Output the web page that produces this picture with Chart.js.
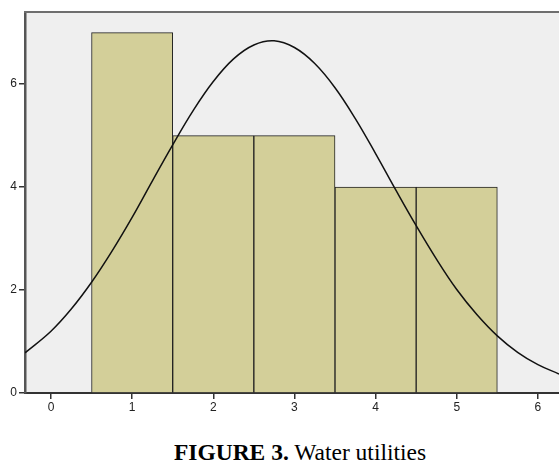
<!DOCTYPE html>
<html>
<head>
<meta charset="utf-8">
<script src="https://cdn.jsdelivr.net/npm/chart.js@4/dist/chart.umd.min.js"></script>
<style>
  body { margin: 0; background: #fff; }
  #wrap { position: relative; width: 559px; height: 418px; }
  #caption { position: absolute; top: 439px; left: 0; font-family: "Liberation Serif", "Times New Roman", serif;
             font-size: 23.5px; line-height: 27px; color: #000; text-align: center; width: 600px; }
</style>
</head>
<body>
<div id="wrap"><canvas id="myChart" width="559" height="418"></canvas></div>
<div id="caption"><b>FIGURE 3.</b> Water utilities</div>
<script>
// histogram bins (centres) and counts
var binCentres = [1, 2, 3, 4, 5];
var binCounts = [7, 5, 5, 4, 4];

// normal curve
var curveX = [-0.32, 0, 0.25, 0.5, 0.75, 1, 1.25, 1.5, 1.75, 2, 2.25, 2.5, 2.75, 3, 3.25,
              3.5, 3.75, 4, 4.25, 4.5, 4.75, 5, 5.25, 5.5, 5.75, 6, 6.26];
var curveY = [0.78, 1.20, 1.63, 2.15, 2.75, 3.41, 4.12, 4.82, 5.48, 6.05, 6.49, 6.76, 6.84, 6.71, 6.40,
              5.93, 5.33, 4.65, 3.94, 3.25, 2.60, 2.01, 1.52, 1.11, 0.79, 0.55, 0.37];

var xTicks = [0, 1, 2, 3, 4, 5, 6];
var yTicks = [0, 2, 4, 6];

var barData = binCentres.map(function(c, i) { return {x: c, y: binCounts[i]}; });
var lineData = curveX.map(function(x, i) { return {x: x, y: curveY[i]}; });

var plotBg = {
    id: 'plotBg',
    beforeDraw: function(chart) {
        var a = chart.chartArea, ctx = chart.ctx;
        ctx.save();
        ctx.fillStyle = '#efefef';
        ctx.fillRect(a.left, a.top, a.right - a.left, a.bottom - a.top);
        ctx.restore();
    },
    afterDraw: function(chart) {
        var a = chart.chartArea, ctx = chart.ctx;
        ctx.save();
        ctx.strokeStyle = '#6e6e6e';
        ctx.lineWidth = 2;
        ctx.beginPath();
        ctx.moveTo(a.left - 1, a.top);
        ctx.lineTo(a.right, a.top);
        ctx.stroke();
        ctx.restore();
    }
};

var ctx = document.getElementById('myChart').getContext('2d');
var chart = new Chart(ctx, {
    type: 'bar',
    data: {
        datasets: [{
            type: 'line',
            data: lineData,
            borderColor: '#111',
            borderWidth: 1.5,
            pointRadius: 0,
            tension: 0.4,
            fill: false,
            order: 0
        }, {
            type: 'bar',
            data: barData,
            backgroundColor: '#d3cf99',
            borderColor: '#222',
            borderWidth: 1,
            barPercentage: 1,
            categoryPercentage: 1,
            order: 1
        }]
    },
    options: {
        responsive: false,
        animation: false,
        layout: { padding: { left: 0, top: 12, right: 0, bottom: 0 } },
        plugins: { legend: { display: false }, tooltip: { enabled: false } },
        scales: {
            x: {
                type: 'linear',
                min: -0.32,
                max: 6.26,
                offset: false,
                afterBuildTicks: function(s) { s.ticks = xTicks.map(function(v) { return {value: v}; }); },
                afterFit: function(s) { s.height = 25; },
                grid: { offset: false, drawOnChartArea: false, tickLength: 6, color: '#333', lineWidth: 1.5 },
                border: { color: '#333', width: 2 },
                ticks: { color: '#222', font: { family: 'Liberation Sans', size: 12 }, padding: 1 }
            },
            y: {
                min: 0,
                max: 7.4,
                afterBuildTicks: function(s) { s.ticks = yTicks.map(function(v) { return {value: v}; }); },
                afterFit: function(s) { s.width = 25; },
                grid: { drawOnChartArea: false, tickLength: 6, color: '#333', lineWidth: 1.5 },
                border: { color: '#555', width: 2.5 },
                ticks: { color: '#222', font: { family: 'Liberation Sans', size: 12 }, padding: 2 }
            }
        }
    },
    plugins: [plotBg]
});
</script>
</body>
</html>
